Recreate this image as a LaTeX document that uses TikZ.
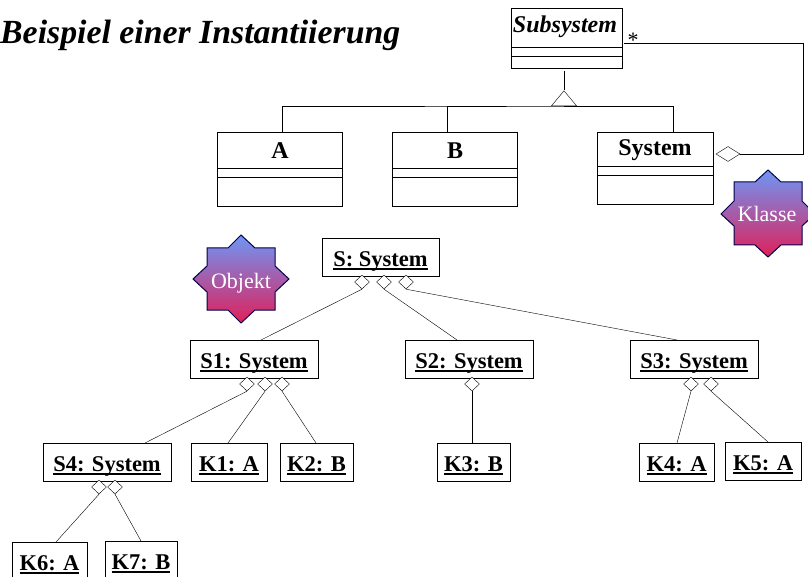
\documentclass[tikz,border=0pt]{standalone}
\usepackage{fontspec}
\setmainfont{Liberation Serif}
\usetikzlibrary{shapes.geometric}
\definecolor{startop}{HTML}{6E96F5}
\definecolor{starbot}{HTML}{E0205A}
\newsavebox{\ulbox}
\newcommand{\ulx}[1]{\sbox{\ulbox}{#1}\rlap{\rule[-4.2pt]{\wd\ulbox}{2pt}}\usebox{\ulbox}}
\tikzset{
 x=1pt,y=-1pt,
 line width=1.35pt,
 cls/.style={draw,rectangle,inner sep=0pt,fill=white},
 obj/.style={draw,rectangle,inner sep=0pt,minimum height=38pt,text height=22.5pt,text depth=4pt,font=\bfseries\fontsize{22.5}{22.5}\selectfont},
 dia/.style={draw,diamond,aspect=1.05,inner sep=0pt,minimum width=15pt,minimum height=14pt,fill=white},
 tri/.style={draw,isosceles triangle,shape border rotate=90,isosceles triangle stretches,inner sep=0pt,minimum width=25pt,minimum height=15pt,fill=white},
 starshape/.style={draw=black!70!blue,line width=1pt,top color=startop,bottom color=starbot},
 startext/.style={text=white,anchor=base,inner sep=0pt,font=\fontsize{22}{22}\selectfont},
 cname/.style={font=\bfseries\fontsize{24}{24}\selectfont,anchor=base,inner sep=0pt},
}
\begin{document}
\begin{tikzpicture}
\useasboundingbox (0,0) rectangle (808,577);
% title
\node[anchor=base west,inner sep=0pt,font=\bfseries\itshape\fontsize{33.8}{33.8}\selectfont] (title) at (0,44) {Beispiel einer Instantiierung};
% class boxes
\node[cls,minimum width=111pt,minimum height=60pt] (sub) at (566.5,38) {};
\draw (511,47) -- (622,47) (511,56) -- (622,56);
\node[cname,font=\bfseries\itshape\fontsize{24}{24}\selectfont] (subl) at (565,33) {Subsystem};
\node[cls,minimum width=125pt,minimum height=74pt] (a) at (279.5,169) {};
\draw (217,168) -- (342,168) (217,177) -- (342,177);
\node[cname] (al) at (280,159) {A};
\node[cls,minimum width=125pt,minimum height=74pt] (b) at (454.5,169) {};
\draw (392,168) -- (517,168) (392,177) -- (517,177);
\node[cname] (bl) at (455,159) {B};
\node[cls,minimum width=116pt,minimum height=72pt] (sys) at (655,168) {};
\draw (597,166) -- (713,166) (597,175) -- (713,175);
\node[cname] (sysl) at (655,156) {System};
% generalisation
\coordinate (bar) at (564,106);
\coordinate (at) at (282,132);
\coordinate (bt) at (447,132);
\coordinate (st) at (673,132);
\draw (at) |- (bar) -| (bt);
\draw (bar) -| (st);
\coordinate (subb) at (564,71);
\node[tri,anchor=south] (gen) at (bar) {};
\draw (subb) -- (gen.north);
% aggregation
\node[dia,minimum width=24pt,minimum height=15pt] (sysd) at (728,154) {};
\coordinate (subr) at (624,43);
\draw (subr) -| (803,154) -- (sysd.east);
\node[anchor=base,inner sep=0pt,font=\fontsize{22}{22}\selectfont] (mult) at (633,48) {*};
% stars
\path[starshape]
  (768,170) -- (781,182) -- (802,182) -- (802,201) -- (815,214) -- (802,226) -- (802,245) -- (781,245) -- (768,257) -- (755,245) -- (734,245) -- (734,226) -- (721,214) -- (734,201) -- (734,182) -- (755,182) -- cycle;
\node[startext] (klasse) at (767,222) {Klasse};
\path[starshape]
  (241,235) -- (255,248) -- (275,248) -- (275,266) -- (289,279) -- (275,292) -- (275,310) -- (255,310) -- (241,323) -- (228,310) -- (207,310) -- (207,292) -- (193,279) -- (207,266) -- (207,248) -- (228,248) -- cycle;
\node[startext] (objekt) at (241,288) {Objekt};
% objects
\node[obj,minimum width=117pt] (s) at (380.5,257) {\ulx{S: System}};
\node[obj,minimum width=128pt] (s1) at (254,359) {\ulx{S1: System}};
\node[obj,minimum width=128pt] (s2) at (469,359) {\ulx{S2: System}};
\node[obj,minimum width=128pt] (s3) at (694,359) {\ulx{S3: System}};
\node[obj,minimum width=128pt] (s4) at (107,462) {\ulx{S4: System}};
\node[obj,minimum width=76pt] (k1) at (229,462) {\ulx{K1: A}};
\node[obj,minimum width=73pt] (k2) at (316.5,462) {\ulx{K2: B}};
\node[obj,minimum width=73pt] (k3) at (473.5,462) {\ulx{K3: B}};
\node[obj,minimum width=75pt] (k4) at (676.5,462) {\ulx{K4: A}};
\node[obj,minimum width=76pt] (k5) at (763,461) {\ulx{K5: A}};
\node[obj,minimum width=75pt] (k6) at (49.5,561) {\ulx{K6: A}};
\node[obj,minimum width=72pt] (k7) at (141,560) {\ulx{K7: B}};
% diamonds
\node[dia] (d1) at (362,282) {};
\node[dia] (d2) at (384,282) {};
\node[dia] (d3) at (406,282) {};
\node[dia] (d4) at (247,384) {};
\node[dia] (d5) at (265,384) {};
\node[dia] (d6) at (282,384) {};
\node[dia] (d7) at (472,384) {};
\node[dia] (d8) at (691,384) {};
\node[dia] (d9) at (711,384) {};
\node[dia] (d10) at (99,487) {};
\node[dia] (d11) at (115,487) {};
% connector ends
\coordinate (e1) at (261,340);
\coordinate (e2) at (457,340);
\coordinate (e3) at (677,340);
\coordinate (e4) at (145,443);
\coordinate (e5) at (228,443);
\coordinate (e6) at (316,443);
\coordinate (e7) at (472,443);
\coordinate (e8) at (677,443);
\coordinate (e9) at (768,442);
\coordinate (e10) at (56,542);
\coordinate (e11) at (141,541);
\foreach \d/\e in {d1/e1,d2/e2,d3/e3,d4/e4,d5/e5,d6/e6,d7/e7,d8/e8,d9/e9,d10/e10,d11/e11}
  \draw (\d.south) -- (\e);
\end{tikzpicture}
\end{document}
